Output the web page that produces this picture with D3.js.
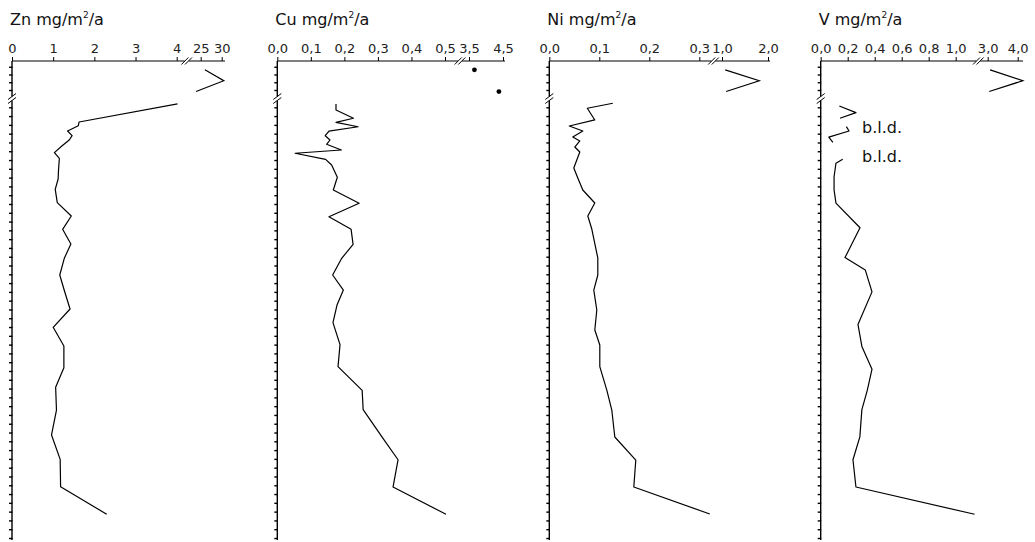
<!DOCTYPE html>
<html><head><meta charset="utf-8">
<script src="https://cdn.jsdelivr.net/npm/d3@7"></script>
<style>body{margin:0;background:#fff}</style>
</head><body>
<svg id="c" width="1035" height="542"></svg>
<script>
// ---------- data ----------
const upperDepth = [1.4, 2.8, 4.2];
const upperTicks = [1, 2, 3, 4];
const lowerTicks = d3.range(0, 50);

const znLowTicks = [0, 1, 2, 3, 4];
const znHighTicks = [25, 30];
const znTickLabels = ["0", "1", "2", "3", "4", "25", "30"];
const znUpper = [26.0, 30.5, 23.9];
const znDepth = [-0.38,1.67,2.09,2.70,3.23,3.72,4.40,5.16,5.80,7.13,8.16,9.33,10.85,12.37,13.88,15.55,17.18,19.08,20.98,22.95,25.03,27.16,29.62,31.85,34.44,37.28,40.05,43.16,46.30];
const znValue = [4.02,1.63,1.61,1.35,1.46,1.39,1.21,1.03,1.15,1.13,1.12,1.05,1.10,1.44,1.23,1.43,1.27,1.16,1.28,1.41,1.00,1.26,1.26,1.06,1.08,0.96,1.17,1.18,2.30];

const cuLowTicks = [0, 0.1, 0.2, 0.3, 0.4, 0.5];
const cuHighTicks = [3.5, 4.5];
const cuTickLabels = ["0,0", "0,1", "0,2", "0,3", "0,4", "0,5", "3,5", "4,5"];
const cuUpper = [3.66, NaN, 4.38];
const cuDepth = [-0.38,0.31,1.25,1.71,2.21,2.70,3.23,3.72,4.21,4.86,5.23,5.92,6.56,7.96,9.41,10.92,12.45,13.88,15.59,17.18,19.08,20.79,22.5,24.5,27.0,29.5,32.2,34.4,37.5,40.1,43.2,46.3];
const cuValue = [0.175,0.175,0.227,0.175,0.241,0.154,0.143,0.157,0.147,0.191,0.053,0.144,0.162,0.179,0.167,0.244,0.154,0.220,0.226,0.192,0.165,0.197,0.178,0.166,0.187,0.181,0.253,0.256,0.312,0.360,0.345,0.503];

const niLowTicks = [0, 0.1, 0.2, 0.3];
const niHighTicks = [1, 2];
const niTickLabels = ["0,0", "0,1", "0,2", "0,3", "1,0", "2,0"];
const niUpper = [1.07, 1.81, 1.09];
const niDepth = [-0.46,0.11,1.44,2.13,2.70,3.38,3.83,4.52,5.09,6.0,6.9,8.05,9.41,10.89,12.37,13.85,17.14,19.08,20.79,23.06,25.34,27.05,29.5,32.17,34.44,37.51,40.13,43.2,46.27];
const niValue = [0.127,0.076,0.091,0.040,0.067,0.047,0.061,0.051,0.061,0.055,0.049,0.057,0.067,0.091,0.077,0.085,0.097,0.097,0.089,0.095,0.091,0.101,0.101,0.115,0.125,0.131,0.173,0.169,0.321];

const vLowTicks = [0, 0.2, 0.4, 0.6, 0.8, 1.0];
const vHighTicks = [3, 4];
const vTickLabels = ["0,0", "0,2", "0,4", "0,6", "0,8", "1,0", "3,0", "4,0"];
const vUpper = [3.08, 4.17, 3.05];
const vDepth = [-0.15,0.61,1.25,1.7,2.2,2.7,3.4,4.0,5.0,5.92,6.37,7.9,9.4,10.9,13.7,17.1,18.5,21.0,24.7,27.2,29.8,32.2,34.4,37.5,40.1,43.2,46.3];
const vValue = [0.138,0.261,0.143,NaN,0.19,0.21,0.06,0.09,NaN,0.163,0.113,0.099,0.099,0.113,0.291,0.18,0.33,0.38,0.276,0.305,0.38,0.345,0.305,0.29,0.239,0.261,1.14];
const bldLabels = ["b.l.d.", "b.l.d."];
const bldDepth = [2.4, 5.6];

const titles = ["Zn", "Cu", "Ni", "V"];

// ---------- layout ----------
const axisY = 61, axisBottom = 540, breakY = 98.5;
const yUp = d3.scaleLinear().domain([1, 4]).range([66.75, 90]);
const yLow = d3.scaleLinear().domain([0, 49]).range([107.3, 538]);

const panels = [
  {title: titles[0], x0: 12, lowTicks: znLowTicks, highTicks: znHighTicks, labels: znTickLabels,
   low: [0, 4, 12, 176.7], high: [25, 30, 200.7, 221.7], brk: 186.7, end: 225,
   upper: znUpper, depth: znDepth, value: znValue, upperMode: "line"},
  {title: titles[1], x0: 277.3, lowTicks: cuLowTicks, highTicks: cuHighTicks, labels: cuTickLabels,
   low: [0, 0.5, 277.3, 445], high: [3.5, 4.5, 469, 503], brk: 460, end: 505,
   upper: cuUpper, depth: cuDepth, value: cuValue, upperMode: "dot"},
  {title: titles[2], x0: 549.3, lowTicks: niLowTicks, highTicks: niHighTicks, labels: niTickLabels,
   low: [0, 0.3, 549.3, 699.3], high: [1, 2, 722, 768], brk: 713.5, end: 770,
   upper: niUpper, depth: niDepth, value: niValue, upperMode: "line"},
  {title: titles[3], x0: 820.7, lowTicks: vLowTicks, highTicks: vHighTicks, labels: vTickLabels,
   low: [0, 1, 820.7, 955.7], high: [3, 4, 987.7, 1017.7], brk: 978.3, end: 1023,
   upper: vUpper, depth: vDepth, value: vValue, upperMode: "line"}
];

const svg = d3.select("#c");
const FONT = "DejaVu Sans, sans-serif";

panels.forEach((p, pi) => {
  const g = svg.append("g");
  const xLow = d3.scaleLinear().domain([p.low[0], p.low[1]]).range([p.low[2], p.low[3]]);
  const xHigh = d3.scaleLinear().domain([p.high[0], p.high[1]]).range([p.high[2], p.high[3]]);

  // title
  const t = g.append("text").attr("x", p.x0 - 2).attr("y", 25)
    .attr("font-family", FONT).attr("font-size", 16).attr("fill", "#111");
  t.append("tspan").text(p.title + " mg/m");
  t.append("tspan").attr("font-size", 9).attr("dy", -7).text("2");
  t.append("tspan").attr("dy", 7).text("/a");

  // top axis line
  g.append("line").attr("x1", p.x0).attr("x2", p.end).attr("y1", axisY).attr("y2", axisY)
    .attr("stroke", "#000").attr("stroke-width", 1.2);
  // ticks & labels
  const fmtLow = d => p.labels[p.lowTicks.indexOf(d)];
  const fmtHigh = d => p.labels[p.lowTicks.length + p.highTicks.indexOf(d)];
  [[xLow, p.lowTicks, fmtLow], [xHigh, p.highTicks, fmtHigh]].forEach(([sc, tv, fm]) => {
    const ax = g.append("g").attr("transform", `translate(0,${axisY})`)
      .call(d3.axisTop(sc).tickValues(tv).tickSize(4).tickSizeOuter(0).tickPadding(4).tickFormat(fm));
    ax.select(".domain").remove();
    ax.selectAll("line").attr("stroke", "#000");
    ax.selectAll("text").attr("font-family", FONT).attr("font-size", 13).attr("fill", "#222");
  });
  // top break marks
  g.append("rect").attr("x", p.brk - 2).attr("y", axisY - 1.5).attr("width", 4).attr("height", 3).attr("fill", "#fff");
  [-1.8, 1.8].forEach(o => {
    g.append("line").attr("x1", p.brk + o - 3.5).attr("y1", axisY + 3.5)
      .attr("x2", p.brk + o + 3.5).attr("y2", axisY - 3.5).attr("stroke", "#000").attr("stroke-width", 1);
  });

  // left axis
  g.append("line").attr("x1", p.x0).attr("x2", p.x0).attr("y1", axisY).attr("y2", axisBottom)
    .attr("stroke", "#000").attr("stroke-width", 1.4);
  [[yUp, upperTicks], [yLow, lowerTicks]].forEach(([sc, tv]) => {
    const ax = g.append("g").attr("transform", `translate(${p.x0 + 0.5},0)`)
      .call(d3.axisLeft(sc).tickValues(tv).tickSize(3.5).tickSizeOuter(0).tickFormat(""));
    ax.select(".domain").remove();
    ax.selectAll("line").attr("stroke", "#000").attr("stroke-width", 1.4);
  });
  g.append("rect").attr("x", p.x0 - 1.5).attr("y", breakY - 2).attr("width", 3).attr("height", 4).attr("fill", "#fff");
  [-2, 2].forEach(o => {
    g.append("line").attr("x1", p.x0 - 4).attr("y1", breakY + o + 3)
      .attr("x2", p.x0 + 4).attr("y2", breakY + o - 3).attr("stroke", "#000").attr("stroke-width", 1);
  });

  // upper data
  const upPts = upperDepth.map((d, i) => [d, p.upper[i]]);
  if (p.upperMode === "line") {
    g.append("path").attr("d", d3.line().x(d => xHigh(d[1])).y(d => yUp(d[0]))(upPts))
      .attr("fill", "none").attr("stroke", "#000").attr("stroke-width", 1.2);
  } else {
    g.selectAll("circle.up").data(upPts.filter(d => !isNaN(d[1]))).join("circle")
      .attr("cx", d => xHigh(d[1])).attr("cy", d => yUp(d[0])).attr("r", 2.4).attr("fill", "#000");
  }
  // lower data
  const pts = p.depth.map((d, i) => [d, p.value[i]]);
  g.append("path").attr("d", d3.line().defined(d => !isNaN(d[1])).x(d => xLow(d[1])).y(d => yLow(d[0]))(pts))
    .attr("fill", "none").attr("stroke", "#000").attr("stroke-width", 1.2).attr("stroke-linejoin", "round");

  if (pi === 3) {
    g.selectAll("text.bld").data(bldLabels).join("text").attr("class", "bld")
      .attr("x", 862).attr("y", (d, i) => yLow(bldDepth[i]) + 5)
      .attr("font-family", FONT).attr("font-size", 16).attr("fill", "#111").text(d => d);
  }
});
</script>
</body></html>
